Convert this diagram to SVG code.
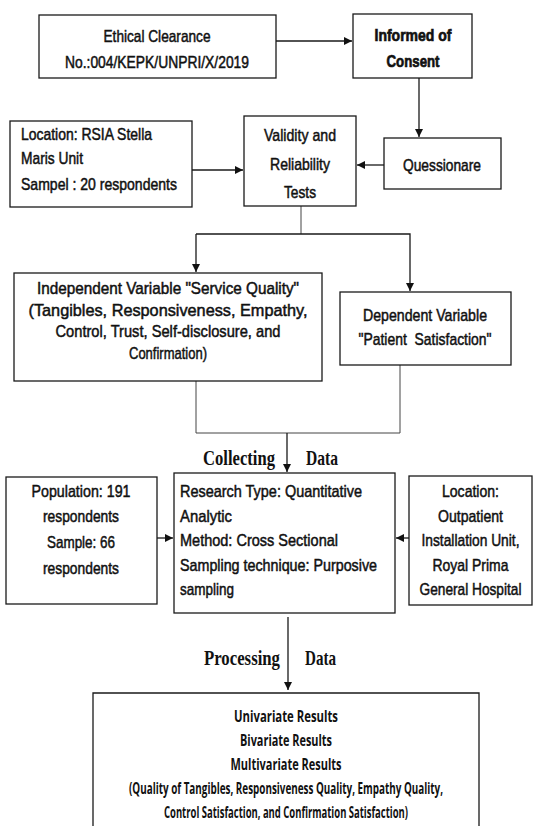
<svg xmlns="http://www.w3.org/2000/svg" width="534" height="826" viewBox="0 0 534 826">
<defs>
<style>
.box{fill:#fff;stroke:#1a1a1a;stroke-width:1.3}
.t{font-family:"Liberation Sans Narrow","Liberation Sans",Arial,sans-serif;font-size:17px;fill:#111;stroke:#111;stroke-width:0.5}
.c{text-anchor:middle}
.b{font-weight:bold;stroke-width:0.7}
.tm{font-family:"Liberation Serif","Times New Roman",serif;font-size:21px;font-weight:bold;fill:#111}
.r{font-family:"Open Sans",Lato,"Liberation Sans",sans-serif;font-size:16px;font-weight:700;fill:#111;text-anchor:middle}
.ln{fill:none;stroke:#1a1a1a;stroke-width:1.3}
.ln2{fill:none;stroke:#444;stroke-width:1}
</style>
<marker id="ah" viewBox="0 0 10 10" refX="10" refY="5" markerWidth="8" markerHeight="8" orient="auto" markerUnits="userSpaceOnUse">
<path d="M0,0 L10,5 L0,10 z" fill="#111"/>
</marker>
</defs>
<rect width="534" height="826" fill="#fff"/>

<g id="connectors">
<line class="ln" x1="276" y1="41" x2="352" y2="41" marker-end="url(#ah)"/>
<line class="ln" x1="419" y1="78" x2="419" y2="137" marker-end="url(#ah)"/>
<line class="ln" x1="192" y1="170" x2="243" y2="170" marker-end="url(#ah)"/>
<line class="ln" x1="384" y1="165" x2="357" y2="165" marker-end="url(#ah)"/>
<polyline class="ln2" points="301,206 301,234"/>
<polyline class="ln" points="196,234 410,234 410,291" marker-end="url(#ah)"/>
<line class="ln" x1="196" y1="234" x2="196" y2="272" marker-end="url(#ah)"/>
<polyline class="ln2" points="196,381 196,433 400,433 400,365"/>
<line class="ln" x1="287" y1="433" x2="287" y2="472" marker-end="url(#ah)"/>
<line class="ln" x1="157" y1="538" x2="173" y2="538" marker-end="url(#ah)"/>
<line class="ln" x1="409" y1="538" x2="396" y2="538" marker-end="url(#ah)"/>
<line class="ln" x1="288" y1="617" x2="288" y2="690" marker-end="url(#ah)"/>
</g>

<g id="ethical">
<rect class="box" x="39" y="15" width="237" height="63"/>
<text class="t c" x="157" y="41.5" textLength="107" lengthAdjust="spacingAndGlyphs">Ethical Clearance</text>
<text class="t c" x="157" y="67.5" textLength="184" lengthAdjust="spacingAndGlyphs">No.:004/KEPK/UNPRI/X/2019</text>
</g>

<g id="informed">
<rect class="box" x="353" y="14" width="119" height="64"/>
<text class="t c b" x="413" y="41" textLength="77" lengthAdjust="spacingAndGlyphs">Informed of</text>
<text class="t c b" x="413" y="67" textLength="53" lengthAdjust="spacingAndGlyphs">Consent</text>
</g>

<g id="location1">
<rect class="box" x="10" y="121" width="182" height="86"/>
<text class="t" x="21" y="139.5" textLength="131" lengthAdjust="spacingAndGlyphs">Location: RSIA Stella</text>
<text class="t" x="21" y="164" textLength="62" lengthAdjust="spacingAndGlyphs">Maris Unit</text>
<text class="t" x="21" y="190" textLength="156" lengthAdjust="spacingAndGlyphs">Sampel : 20 respondents</text>
</g>

<g id="validity">
<rect class="box" x="244" y="116" width="112" height="90"/>
<text class="t c" x="300" y="141" textLength="72" lengthAdjust="spacingAndGlyphs">Validity and</text>
<text class="t c" x="300" y="170" textLength="60" lengthAdjust="spacingAndGlyphs">Reliability</text>
<text class="t c" x="300" y="198" textLength="32" lengthAdjust="spacingAndGlyphs">Tests</text>
</g>

<g id="questionare">
<rect class="box" x="384" y="138" width="117" height="51"/>
<text class="t c" x="442" y="171" textLength="78" lengthAdjust="spacingAndGlyphs">Quessionare</text>
</g>

<g id="independent">
<rect class="box" x="14" y="273" width="308" height="108"/>
<text class="t c" x="168" y="293.5" textLength="262" lengthAdjust="spacingAndGlyphs">Independent Variable "Service Quality"</text>
<text class="t c" x="168" y="315.5" textLength="279" lengthAdjust="spacingAndGlyphs">(Tangibles, Responsiveness, Empathy,</text>
<text class="t c" x="168" y="337" textLength="225" lengthAdjust="spacingAndGlyphs">Control, Trust, Self-disclosure, and</text>
<text class="t c" x="168" y="359" textLength="78" lengthAdjust="spacingAndGlyphs">Confirmation)</text>
</g>

<g id="dependent">
<rect class="box" x="340" y="292" width="171" height="73"/>
<text class="t c" x="425" y="320.5" textLength="124" lengthAdjust="spacingAndGlyphs">Dependent Variable</text>
<text class="t c" x="425" y="344.5" textLength="133" lengthAdjust="spacingAndGlyphs" xml:space="preserve">"Patient  Satisfaction"</text>
</g>

<g id="collecting-label">
<text class="tm" x="203" y="465" textLength="72" lengthAdjust="spacingAndGlyphs">Collecting</text>
<text class="tm" x="306" y="465" textLength="32" lengthAdjust="spacingAndGlyphs">Data</text>
</g>

<g id="population">
<rect class="box" x="6" y="477" width="151" height="127"/>
<text class="t c" x="81" y="497" textLength="99" lengthAdjust="spacingAndGlyphs">Population: 191</text>
<text class="t c" x="81" y="522" textLength="76" lengthAdjust="spacingAndGlyphs">respondents</text>
<text class="t c" x="81" y="548" textLength="68" lengthAdjust="spacingAndGlyphs">Sample: 66</text>
<text class="t c" x="81" y="574" textLength="76" lengthAdjust="spacingAndGlyphs">respondents</text>
</g>

<g id="research">
<rect class="box" x="174" y="473" width="221" height="140"/>
<text class="t" x="180" y="497" textLength="182" lengthAdjust="spacingAndGlyphs">Research Type: Quantitative</text>
<text class="t" x="180" y="521.5" textLength="52" lengthAdjust="spacingAndGlyphs">Analytic</text>
<text class="t" x="180" y="546" textLength="158" lengthAdjust="spacingAndGlyphs">Method: Cross Sectional</text>
<text class="t" x="180" y="570.5" textLength="197" lengthAdjust="spacingAndGlyphs">Sampling technique: Purposive</text>
<text class="t" x="180" y="595" textLength="54" lengthAdjust="spacingAndGlyphs">sampling</text>
</g>

<g id="location2">
<rect class="box" x="409" y="476" width="123" height="129"/>
<text class="t c" x="470.5" y="497" textLength="57" lengthAdjust="spacingAndGlyphs">Location:</text>
<text class="t c" x="470.5" y="521.5" textLength="65" lengthAdjust="spacingAndGlyphs">Outpatient</text>
<text class="t c" x="470.5" y="546" textLength="98" lengthAdjust="spacingAndGlyphs">Installation Unit,</text>
<text class="t c" x="470.5" y="570.5" textLength="76" lengthAdjust="spacingAndGlyphs">Royal Prima</text>
<text class="t c" x="470.5" y="595" textLength="102" lengthAdjust="spacingAndGlyphs">General Hospital</text>
</g>

<g id="processing-label">
<text class="tm" x="204" y="665" textLength="76" lengthAdjust="spacingAndGlyphs">Processing</text>
<text class="tm" x="305" y="665" textLength="31" lengthAdjust="spacingAndGlyphs">Data</text>
</g>

<g id="results">
<path class="box" d="M93,826 V693 H479 V826"/>
<text class="r" x="286" y="722" textLength="104" lengthAdjust="spacingAndGlyphs">Univariate Results</text>
<text class="r" x="286" y="746" textLength="92" lengthAdjust="spacingAndGlyphs">Bivariate Results</text>
<text class="r" x="286" y="770" textLength="111" lengthAdjust="spacingAndGlyphs">Multivariate Results</text>
<text class="r" x="286" y="793.5" textLength="314" lengthAdjust="spacingAndGlyphs">(Quality of Tangibles, Responsiveness Quality, Empathy Quality,</text>
<text class="r" x="286" y="817.5" textLength="244" lengthAdjust="spacingAndGlyphs">Control Satisfaction, and Confirmation Satisfaction)</text>
</g>
</svg>
